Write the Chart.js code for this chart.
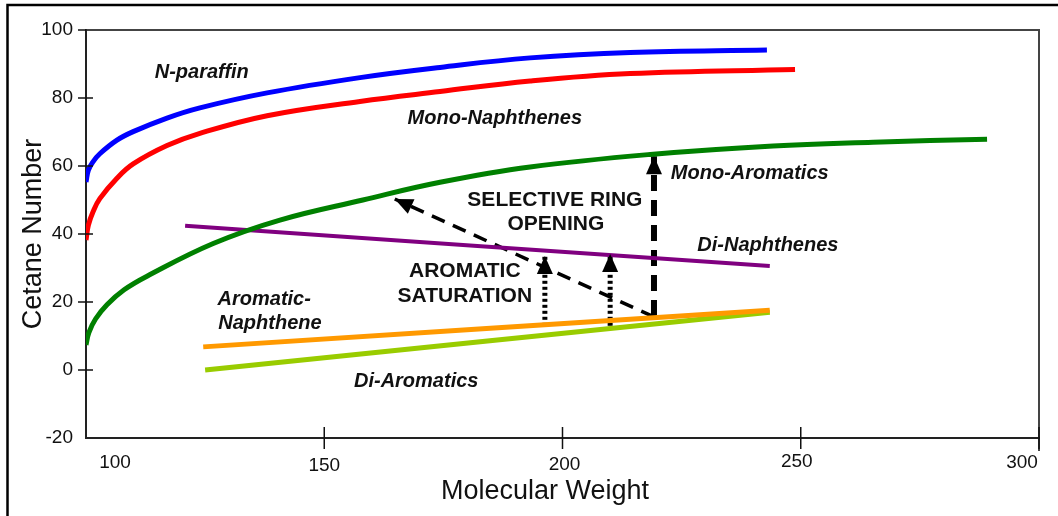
<!DOCTYPE html>
<html>
<head>
<meta charset="utf-8">
<script src="https://cdn.jsdelivr.net/npm/chart.js@4.4.1/dist/chart.umd.min.js"></script>
<style>
  body { margin: 0; background: #fff; }
  #wrap { width: 1058px; height: 516px; }
</style>
</head>
<body>
<div id="wrap"><canvas id="chart"></canvas></div>
<script>
// axis ticks
const xTicks = [100, 150, 200, 250, 300];
const yTicks = [-20, 0, 20, 40, 60, 80, 100];
const xTitle = 'Molecular Weight';
const yTitle = 'Cetane Number';

// curves (molecular weight, cetane number)
const nParaffinX = [100, 100.5, 101.5, 102.9, 106.5, 109.9, 117.0, 123.9, 138.0, 157.5, 174.3, 193.2, 214.2, 242.9];
const nParaffinY = [55.3, 58.8, 61.3, 63.6, 67.6, 70.1, 74.1, 77.1, 81.5, 86.0, 89.0, 91.8, 93.4, 94.1];

const monoNaphX = [100, 100.5, 101.5, 102.9, 106.5, 109.9, 117.0, 123.9, 138.0, 157.5, 174.3, 193.2, 214.2, 248.8];
const monoNaphY = [38.2, 42.6, 46.6, 50.4, 56.4, 60.6, 66.0, 69.6, 74.8, 79.0, 81.9, 85.0, 87.2, 88.4];

const monoAromX = [100, 100.6, 102.0, 104.4, 108.0, 112.8, 126.7, 140.7, 158.1, 174.3, 193.2, 218.4, 244.2, 265.2, 289.1];
const monoAromY = [7.4, 11.0, 15.0, 19.2, 23.6, 27.6, 37.2, 44.1, 50.0, 55.2, 59.7, 63.4, 65.9, 67.0, 67.9];

const diNaphX = [120.8, 243.5];
const diNaphY = [42.4, 30.6];

const aromNaphX = [124.6, 243.5];
const aromNaphY = [6.8, 17.6];

const diAromX = [125.0, 243.5];
const diAromY = [0.0, 17.0];

// arrows: [tail, tip]
const ringOpenUpX = [219.2, 219.2];
const ringOpenUpY = [15.9, 62.9];
const ringOpenDiagX = [219.2, 164.8];
const ringOpenDiagY = [15.6, 50.3];
const satArrow1X = [196.3, 196.3];
const satArrow1Y = [13.0, 33.5];
const satArrow2X = [210.0, 210.0];
const satArrow2Y = [13.0, 34.1];

// text labels
const seriesText = ['N-paraffin', 'Mono-Naphthenes', 'Mono-Aromatics', 'Di-Naphthenes', 'Aromatic-', 'Naphthene', 'Di-Aromatics'];
const seriesTextX = [124.3, 185.8, 239.3, 243.1, 137.4, 138.6, 169.3];
const seriesTextY = [87.4, 74.1, 57.9, 36.5, 20.6, 13.8, -3.5];

const processText = ['SELECTIVE RING', 'OPENING', 'AROMATIC', 'SATURATION'];
const processTextX = [198.4, 198.6, 179.5, 179.5];
const processTextY = [50.0, 42.9, 29.1, 21.8];

const FONT = '"Liberation Sans", Arial, Helvetica, sans-serif';
const xLabelShift = [29, 0, 2, -4, -17];
const xLabelDrop = [25, 28, 27, 24, 25];

const pts = (xs, ys) => xs.map((x, i) => ({x: x, y: ys[i]}));

const curve = (label, xs, ys, color, width) => ({
    label: label,
    data: pts(xs, ys),
    borderColor: color,
    borderWidth: width,
    pointRadius: 0,
    tension: 0.4,
    fill: false
});

const arrow = (xs, ys, width, dash) => ({
    label: 'arrow',
    data: pts(xs, ys),
    borderColor: '#000',
    borderWidth: width,
    borderDash: dash,
    borderCapStyle: 'butt',
    pointRadius: 0,
    fill: false,
    isArrow: true
});

const extras = {
    id: 'extras',
    beforeDraw(chart) {
        const {ctx, chartArea: a} = chart;
        ctx.save();
        ctx.fillStyle = '#fff';
        ctx.fillRect(0, 0, chart.width, chart.height);
        ctx.strokeStyle = '#000';
        ctx.lineWidth = 2.5;
        ctx.beginPath();
        ctx.moveTo(7.5, chart.height);
        ctx.lineTo(7.5, 5);
        ctx.lineTo(chart.width, 5);
        ctx.stroke();
        ctx.strokeStyle = '#444';
        ctx.lineWidth = 2;
        ctx.beginPath();
        ctx.moveTo(a.left, a.top);
        ctx.lineTo(a.right, a.top);
        ctx.lineTo(a.right, a.bottom + 13);
        ctx.stroke();
        ctx.restore();
    },
    afterDraw(chart) {
        const {ctx, chartArea: a} = chart;
        const xs = chart.scales.x, ys = chart.scales.y;
        ctx.save();
        // tick marks crossing the axes
        ctx.strokeStyle = '#111';
        ctx.lineWidth = 1.5;
        yTicks.forEach(v => {
            if (v === yTicks[0]) return;
            const py = ys.getPixelForValue(v);
            ctx.beginPath();
            ctx.moveTo(a.left - 8, py);
            ctx.lineTo(a.left + (v === 100 ? 0 : 7), py);
            ctx.stroke();
        });
        xTicks.forEach((v, i) => {
            if (i === 0) return;
            const px = xs.getPixelForValue(v);
            ctx.beginPath();
            ctx.moveTo(px, a.bottom - 11);
            ctx.lineTo(px, a.bottom + 11);
            ctx.stroke();
        });
        // x tick labels
        ctx.fillStyle = '#111';
        ctx.font = '19px ' + FONT;
        ctx.textAlign = 'center';
        ctx.textBaseline = 'middle';
        xTicks.forEach((v, i) => {
            ctx.fillText(String(v), xs.getPixelForValue(v) + xLabelShift[i], a.bottom + xLabelDrop[i]);
        });
        // axis titles
        ctx.font = '27px ' + FONT;
        ctx.fillText(xTitle, xs.getPixelForValue(xs.min) + 459, a.bottom + 54);
        ctx.save();
        ctx.translate(34, ys.getPixelForValue(40));
        ctx.rotate(-Math.PI / 2);
        ctx.fillText(yTitle, 0, 0);
        ctx.restore();
        // arrowheads
        chart.data.datasets.forEach(ds => {
            if (!ds.isArrow) return;
            const p0 = ds.data[0], p1 = ds.data[1];
            const x0 = xs.getPixelForValue(p0.x), y0 = ys.getPixelForValue(p0.y);
            const x1 = xs.getPixelForValue(p1.x), y1 = ys.getPixelForValue(p1.y);
            const ang = Math.atan2(y1 - y0, x1 - x0);
            const len = 18, half = 8;
            ctx.fillStyle = '#000';
            ctx.beginPath();
            ctx.moveTo(x1, y1);
            ctx.lineTo(x1 - len * Math.cos(ang) + half * Math.sin(ang), y1 - len * Math.sin(ang) - half * Math.cos(ang));
            ctx.lineTo(x1 - len * Math.cos(ang) - half * Math.sin(ang), y1 - len * Math.sin(ang) + half * Math.cos(ang));
            ctx.closePath();
            ctx.fill();
        });
        // series names
        ctx.fillStyle = '#111';
        ctx.font = 'italic bold 20px ' + FONT;
        seriesText.forEach((t, i) => {
            ctx.fillText(t, xs.getPixelForValue(seriesTextX[i]), ys.getPixelForValue(seriesTextY[i]));
        });
        ctx.font = 'bold 21px ' + FONT;
        processText.forEach((t, i) => {
            ctx.fillText(t, xs.getPixelForValue(processTextX[i]), ys.getPixelForValue(processTextY[i]));
        });
        ctx.restore();
    }
};

new Chart(document.querySelector('#chart'), {
    type: 'line',
    data: {
        datasets: [
            curve('N-paraffin', nParaffinX, nParaffinY, '#0000ff', 5),
            curve('Mono-Naphthenes', monoNaphX, monoNaphY, '#ff0000', 5),
            curve('Mono-Aromatics', monoAromX, monoAromY, '#008000', 5),
            curve('Di-Naphthenes', diNaphX, diNaphY, '#800080', 4),
            curve('Aromatic-Naphthene', aromNaphX, aromNaphY, '#ff9900', 5),
            curve('Di-Aromatics', diAromX, diAromY, '#99cc00', 5),
            arrow(ringOpenUpX, ringOpenUpY, 6, [16, 9]),
            arrow(ringOpenDiagX, ringOpenDiagY, 3.5, [14, 9]),
            arrow(satArrow1X, satArrow1Y, 5, [3, 3]),
            arrow(satArrow2X, satArrow2Y, 5, [3, 3])
        ]
    },
    options: {
        responsive: true,
        maintainAspectRatio: false,
        animation: false,
        layout: { padding: { top: 30, right: 19, left: 0, bottom: 0 } },
        plugins: {
            legend: { display: false },
            tooltip: { enabled: false }
        },
        scales: {
            x: {
                type: 'linear',
                min: 100,
                max: 300,
                afterFit: s => { s.height = 78; },
                grid: { display: false, drawTicks: false },
                border: { color: '#222', width: 2 },
                ticks: { display: false, stepSize: 50 }
            },
            y: {
                min: -20,
                max: 100,
                afterFit: s => { s.width = 86; },
                grid: { display: false, drawTicks: false },
                border: { color: '#222', width: 2 },
                ticks: {
                    stepSize: 20,
                    padding: 13,
                    color: '#111',
                    font: { family: FONT, size: 19 }
                }
            }
        }
    },
    plugins: [extras]
});
</script>
</body>
</html>
